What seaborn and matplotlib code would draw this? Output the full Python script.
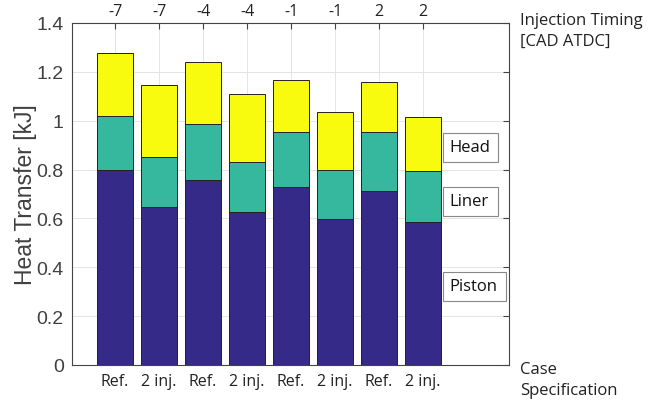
import matplotlib
matplotlib.use("Agg")
import matplotlib.pyplot as plt
from matplotlib.patches import Rectangle
import seaborn as sns
import pandas as pd
import numpy as np

# Data
cases = ["Ref.", "2 inj.", "Ref.", "2 inj.", "Ref.", "2 inj.", "Ref.", "2 inj."]
timing = ["-7", "-7", "-4", "-4", "-1", "-1", "2", "2"]
piston = [0.800, 0.645, 0.757, 0.628, 0.727, 0.598, 0.714, 0.584]
liner = [0.218, 0.205, 0.229, 0.204, 0.225, 0.202, 0.238, 0.209]
head = [0.259, 0.296, 0.254, 0.277, 0.215, 0.237, 0.208, 0.221]
components = ["Piston", "Liner", "Head"]
colors = ["#352a87", "#36b89e", "#f9fb0e"]

sns.set_style("white")
plt.rcParams["font.family"] = ["Open Sans", "DejaVu Sans"]

fig = plt.figure(figsize=(6.64, 4.02), dpi=100)
ax = fig.add_axes([0.1084, 0.0896, 0.658, 0.8507])

ids = [f"c{i}" for i in range(len(cases))]
df = pd.DataFrame({"id": ids, "Piston": piston, "Liner": liner, "Head": head})
bottom = np.zeros(len(ids))
for comp, col in zip(components, colors):
    sns.barplot(data=df, x="id", y=comp, order=ids, color=col, width=0.8,
                bottom=bottom, edgecolor="#222222", linewidth=0.7,
                saturation=1, ax=ax, zorder=3)
    bottom = bottom + df[comp].values

ax.set_xlim(-0.98, 8.95)
ax.set_ylim(0, 1.4)
ax.set_yticks(np.arange(0, 1.41, 0.2))
ax.set_yticklabels(["0", "0.2", "0.4", "0.6", "0.8", "1", "1.2", "1.4"],
                   family=["Liberation Sans", "DejaVu Sans"], fontsize=14, color="#404040")
ax.set_xticks(range(len(cases)))
ax.set_xticklabels(cases, fontsize=11.5, color="#222222")
ax.set_xlabel("")
ax.set_ylabel("Heat Transfer [kJ]", family=["Liberation Sans", "DejaVu Sans"],
              fontsize=16.5, color="#404040")
ax.yaxis.set_label_coords(-0.080, 0.5)
ax.grid(True, color="#e4e4e4", linewidth=0.7, zorder=0)
ax.set_axisbelow(True)
for s in ax.spines.values():
    s.set_visible(True)
    s.set_color("#444444")
    s.set_linewidth(0.8)
ax.tick_params(axis="both", direction="in", length=4, color="#444444",
               right=True, top=False)
ax.tick_params(axis="x", pad=6)
ax.tick_params(axis="y", pad=6)

ax2 = ax.twiny()
ax2.set_xlim(ax.get_xlim())
ax2.set_xticks(range(len(timing)))
ax2.set_xticklabels(timing, fontsize=11.5, color="#222222")
ax2.tick_params(axis="x", direction="in", length=4, color="#444444", pad=3)
for s in ax2.spines.values():
    s.set_visible(False)

# Labelled boxes (x0, x1, y0, y1 in data units)
boxes = [("Head", 7.455, 8.705, 0.831, 0.950),
         ("Liner", 7.455, 8.705, 0.610, 0.729),
         ("Piston", 7.455, 8.886, 0.262, 0.381)]
for label, x0, x1, y0, y1 in boxes:
    ax.add_patch(Rectangle((x0, y0), x1 - x0, y1 - y0, facecolor="white",
                           edgecolor="#888888", linewidth=0.8, zorder=5))
    ax.text(x0 + 0.15, (y0 + y1) / 2, label, fontsize=12, va="center", ha="left",
            zorder=6, color="#111111")

fig.text(520 / 664, 1 - 13 / 402, "Injection Timing\n[CAD ATDC]", fontsize=12,
         va="top", ha="left", color="#222222", linespacing=1.4)
fig.text(520 / 664, 1 - 399 / 402, "Case\nSpecification", fontsize=12,
         va="bottom", ha="left", color="#222222", linespacing=1.4)

fig.savefig("out.png", dpi=100)
